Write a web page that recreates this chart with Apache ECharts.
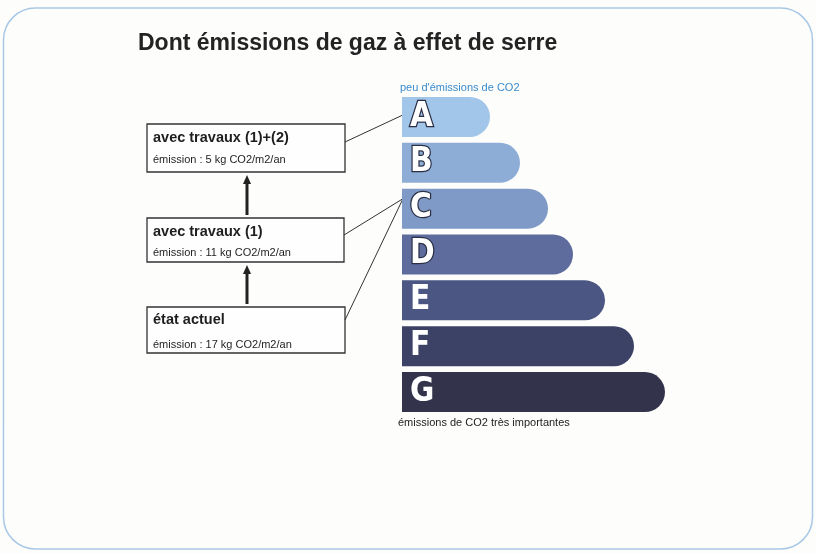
<!DOCTYPE html>
<html>
<head>
<meta charset="utf-8">
<script src="https://cdn.jsdelivr.net/npm/echarts@6/dist/echarts.min.js"></script>
<style>html,body{margin:0;padding:0;background:#fdfdfc;}#c{width:816px;height:554px;}</style>
</head>
<body>
<div id="c"></div>
<script>
// ---- data ----
const classes = ['A', 'B', 'C', 'D', 'E', 'F', 'G'];
const barLengths = [88, 118, 146, 171, 203, 232, 263];
const scenarioNames = ['avec travaux (1)+(2)', 'avec travaux (1)', 'état actuel'];
const scenarioEmissions = [5, 11, 17];
const scenarioClasses = ['A', 'C', 'C'];
const titleText = 'Dont émissions de gaz à effet de serre';
const topNote = "peu d'émissions de CO2";
const bottomNote = 'émissions de CO2 très importantes';

// ---- styles ----
const barColors = ['#a2c6e9', '#8eadd6', '#7f9ac6', '#5d6c9d', '#4b5683', '#3c4166', '#33334c'];
const FONT = '"Liberation Sans", Arial, sans-serif';

const chart = echarts.init(document.getElementById('c'));

const option = {
  backgroundColor: '#fdfdfc',
  animation: false,
  title: {
    text: titleText,
    left: 133, top: 27,
    textStyle: { fontFamily: FONT, fontSize: 23, fontWeight: 'bold', color: '#232323' }
  },
  grid: { left: 402, top: 94, width: 300, height: 321, containLabel: false },
  xAxis: { type: 'value', min: 0, max: 300, show: false },
  yAxis: { type: 'category', data: classes, inverse: true, show: false },
  series: [{
    type: 'bar',
    barWidth: 40,
    data: classes.map((c, i) => ({
      value: barLengths[i],
      itemStyle: { color: barColors[i], borderRadius: [0, 20, 20, 0] },
      label: { textBorderWidth: i < 4 ? 2.5 : 0 }
    })),
    label: {
      show: true,
      position: 'insideLeft',
      distance: 8,
      formatter: '{b}',
      fontFamily: '"Liberation Sans Narrow", "DejaVu Sans Condensed", sans-serif',
      fontWeight: 'bold',
      fontSize: 33,
      color: '#ffffff',
      textBorderColor: '#2a2f45'
    }
  }],
  graphic: []
};
chart.setOption(option);

// ---- annotations: scenario boxes, arrows and links to classes ----
const boxes = [
  { x: 147, y: 124, w: 198, h: 48, anchor: 18, off: -2, t: 14, s: 36 },
  { x: 147, y: 218, w: 197, h: 44, anchor: 17, off: -10, t: 14, s: 35 },
  { x: 147, y: 307, w: 198, h: 46, anchor: 13, off: -10, t: 13, s: 38 }
];
const g = [];
// outer frame
g.push({ type: 'rect', shape: { x: 3.5, y: 8, width: 809, height: 541, r: 32 },
  style: { fill: 'none', stroke: '#a9c8e6', lineWidth: 1.5 }, silent: true });
// notes
g.push({ type: 'text', x: 400, y: 88, style: { text: topNote, fontFamily: FONT, fontSize: 11, fill: '#3a8bcc', textVerticalAlign: 'middle' } });
g.push({ type: 'text', x: 398, y: 423, style: { text: bottomNote, fontFamily: FONT, fontSize: 11, fill: '#222', textVerticalAlign: 'middle' } });

const barLeft = chart.convertToPixel({ xAxisIndex: 0 }, 0);
scenarioNames.forEach((name, i) => {
  const b = boxes[i];
  g.push({ type: 'rect', shape: { x: b.x, y: b.y, width: b.w, height: b.h },
    style: { fill: '#fefefe', stroke: '#333', lineWidth: 1.3 } });
  g.push({ type: 'text', x: b.x + 6, y: b.y + b.t, style: { text: name, fontFamily: FONT, fontSize: 14.5, fontWeight: 'bold', fill: '#1e1e1e', textVerticalAlign: 'middle' } });
  g.push({ type: 'text', x: b.x + 6, y: b.y + b.s, style: { text: 'émission : ' + scenarioEmissions[i] + ' kg CO2/m2/an', fontFamily: FONT, fontSize: 11, fill: '#1e1e1e', textVerticalAlign: 'middle' } });
  const cy = chart.convertToPixel({ yAxisIndex: 0 }, scenarioClasses[i]);
  g.push({ type: 'line', shape: { x1: b.x + b.w, y1: b.y + b.anchor, x2: barLeft + 1, y2: cy + b.off },
    style: { stroke: '#333', lineWidth: 1 } });
});
// arrows between boxes (upward)
for (let i = 1; i < boxes.length; i++) {
  const upper = boxes[i - 1], lower = boxes[i];
  const ax = 247;
  const yTop = upper.y + upper.h + 3, yBot = lower.y - 3;
  g.push({ type: 'line', shape: { x1: ax, y1: yTop + 7, x2: ax, y2: yBot }, style: { stroke: '#222', lineWidth: 3 } });
  g.push({ type: 'polygon', shape: { points: [[ax, yTop], [ax - 4, yTop + 9], [ax + 4, yTop + 9]] }, style: { fill: '#222' } });
}
chart.setOption({ graphic: g });
</script>
</body>
</html>
